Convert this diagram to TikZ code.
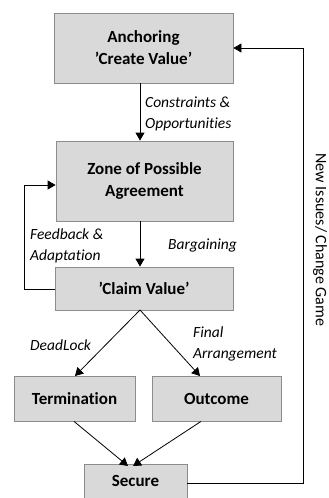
\documentclass[tikz,border=0pt]{standalone}
\usepackage{fontspec}
\setmainfont{Carlito}[Ligatures={TeX,NoCommon}]
\usetikzlibrary{arrows.meta}
\definecolor{boxfill}{HTML}{D9D9D9}
\definecolor{boxline}{HTML}{8C8C8C}
\begin{document}
\begin{tikzpicture}[x=1pt,y=-1pt,
  box/.style={draw=boxline,fill=boxfill,line width=0.8pt,font=\fontsize{17}{22}\selectfont\bfseries,align=center,inner sep=0pt},
  lbl/.style={font=\fontsize{15.5}{20.5}\selectfont\itshape,align=left,inner sep=0pt},
  arr/.style={-{Triangle[length=8pt,width=9pt]},line width=0.8pt}]
\useasboundingbox (0,0) rectangle (329,498);
\node[box,minimum width=179,minimum height=70] (anc) at (143.5,48) {Anchoring\\'Create Value'};
\node[box,minimum width=177,minimum height=80] (zopa) at (144.5,181) {Zone of Possible\\Agreement};
\node[box,minimum width=178,minimum height=43] (claim) at (144,288.5) {'Claim Value'};
\node[box,minimum width=121,minimum height=45] (term) at (74.5,398.5) {Termination};
\node[box,minimum width=129,minimum height=45] (out) at (216.5,398.5) {Outcome};
\node[box,minimum width=103,minimum height=34] (sec) at (135.5,481) {Secure};
\coordinate (ctop) at (140,310);
\coordinate (fbA) at (24,289);
\coordinate (fbB) at (24,185);
\coordinate (rA) at (303,483);
\coordinate (rB) at (303,48);
\draw[arr] (anc.south -| 140,0) -- (zopa.north -| 140,0);
\draw[arr] (zopa.south -| 140,0) -- (claim.north -| 140,0);
\draw[arr] (ctop) -- (75,376);
\draw[arr] (ctop) -- (200,376);
\draw[arr] (term.south -| 74,0) -- (128,466);
\draw[arr] (out.south -| 201,0) -- (133,466);
\draw[arr] (claim.west |- fbA) -- (fbA) -- (fbB) -- (zopa.west |- fbB);
\draw[arr] (sec.east |- rA) -- (rA) -- (rB) -- (anc.east |- rB);
\node[lbl,anchor=west] (l1) at (145,114) {Constraints \&\\Opportunities};
\node[lbl,anchor=west] (l2) at (168,245) {Bargaining};
\node[lbl,anchor=west] (l3) at (30,246) {Feedback \&\\Adaptation};
\node[lbl,anchor=west] (l4) at (30,345) {DeadLock};
\node[lbl,anchor=west] (l5) at (193,344) {Final\\Arrangement};
\node[font=\fontsize{16}{18}\selectfont,rotate=-90,inner sep=0pt] (l6) at (320,240) {New Issues/ Change Game};
\end{tikzpicture}
\end{document}
